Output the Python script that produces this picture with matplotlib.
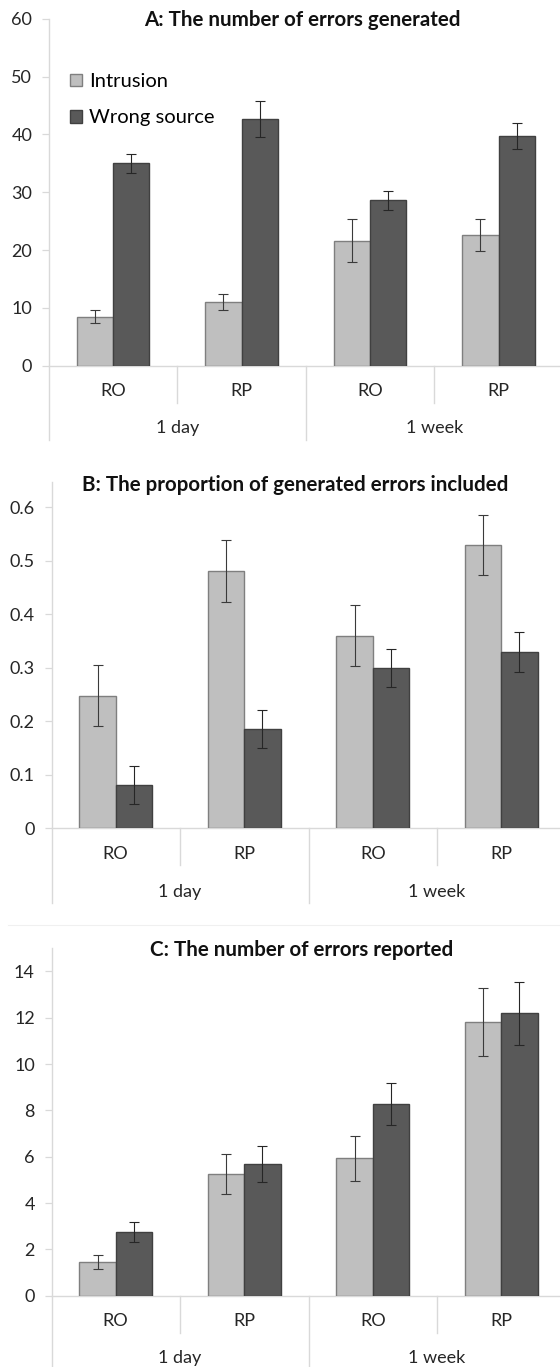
import matplotlib
matplotlib.use('Agg')
import matplotlib.pyplot as plt
import matplotlib.transforms as mtransforms
from matplotlib.patches import Patch

plt.rcParams['font.family'] = ['Lato', 'DejaVu Sans']

# data
categories = ['RO', 'RP', 'RO', 'RP']
groups = ['1 day', '1 week']
series = ['Intrusion', 'Wrong source']

a_intrusion = [8.5, 11.0, 21.6, 22.6]
a_intrusion_err = [1.1, 1.4, 3.7, 2.8]
a_wrong = [35.0, 42.6, 28.6, 39.7]
a_wrong_err = [1.6, 3.1, 1.6, 2.2]

b_intrusion = [0.248, 0.481, 0.360, 0.530]
b_intrusion_err = [0.057, 0.058, 0.057, 0.056]
b_wrong = [0.081, 0.186, 0.300, 0.330]
b_wrong_err = [0.036, 0.036, 0.036, 0.037]

c_intrusion = [1.44, 5.25, 5.93, 11.81]
c_intrusion_err = [0.30, 0.87, 0.97, 1.47]
c_wrong = [2.74, 5.68, 8.27, 12.19]
c_wrong_err = [0.44, 0.77, 0.90, 1.35]

a_ticks = [0, 10, 20, 30, 40, 50, 60]
a_ticklabels = ['0', '10', '20', '30', '40', '50', '60']
b_ticks = [0, 0.1, 0.2, 0.3, 0.4, 0.5, 0.6]
b_ticklabels = ['0', '0.1', '0.2', '0.3', '0.4', '0.5', '0.6']
c_ticks = [0, 2, 4, 6, 8, 10, 12, 14]
c_ticklabels = ['0', '2', '4', '6', '8', '10', '12', '14']

W, H = 560, 1367
LIGHT = '#BFBFBF'
DARK = '#595959'
AXCOL = '#D9D9D9'
FS = 13

fig = plt.figure(figsize=(W / 100, H / 100), dpi=100)


def fy(py):
    return 1 - py / H


def panel(title, title_x, title_y, intr, intr_err, wrong, wrong_err,
          ticks, ticklabels, ymax, x0, top_px, zero_px, axis_top_px,
          axis_bot_px, short_bot_px, cat_y, grp_y, legend=False):
    cat_w = 128.5
    ax = fig.add_axes([x0 / W, fy(zero_px), 4 * cat_w / W, (zero_px - top_px) / H])
    ax.set_xlim(0, 4)
    ax.set_ylim(0, ymax)
    for s in ax.spines.values():
        s.set_visible(False)
    ax.set_xticks([])
    ax.set_yticks(ticks)
    ax.set_yticklabels(ticklabels, fontsize=FS, color='#262626')
    ax.tick_params(axis='y', length=5, width=0.9, color=AXCOL, pad=7)

    bw = 0.2825
    xs = [i + 0.5 for i in range(4)]
    ax.bar([x - bw / 2 for x in xs], intr, bw, color=LIGHT, edgecolor='#7F7F7F',
           linewidth=1.0, label=series[0], zorder=2)
    ax.bar([x + bw / 2 for x in xs], wrong, bw, color=DARK, edgecolor='#404040',
           linewidth=1.0, label=series[1], zorder=2)
    ax.errorbar([x - bw / 2 for x in xs], intr, yerr=intr_err, fmt='none',
                ecolor='#3A3A3A', elinewidth=0.8, capsize=3.5, capthick=0.8, zorder=3)
    ax.errorbar([x + bw / 2 for x in xs], wrong, yerr=wrong_err, fmt='none',
                ecolor='#262626', elinewidth=0.8, capsize=3.5, capthick=0.8, zorder=3)

    ax.axhline(0, color=AXCOL, lw=1.0, clip_on=False, zorder=1)
    tr = mtransforms.blended_transform_factory(ax.transData, fig.transFigure)
    tr_ax = mtransforms.blended_transform_factory(ax.transAxes, fig.transFigure)
    ax.plot([0, 0], [fy(axis_top_px), fy(axis_bot_px)], color=AXCOL, lw=1.0,
            transform=tr_ax, clip_on=False)
    for xb in [1, 3]:
        ax.plot([xb, xb], [fy(zero_px), fy(short_bot_px)], color=AXCOL, lw=1.0,
                transform=tr, clip_on=False)
    ax.plot([2, 2], [fy(zero_px), fy(axis_bot_px)], color=AXCOL, lw=1.0,
            transform=tr, clip_on=False)

    for x, c in zip(xs, categories):
        ax.text(x, fy(cat_y), c, transform=tr, ha='center', va='center',
                fontsize=FS, color='#262626')
    for x, g in zip([1, 3], groups):
        ax.text(x, fy(grp_y), g, transform=tr, ha='center', va='center',
                fontsize=FS, color='#262626')

    fig.text(title_x / W, fy(title_y), title, ha='center', va='center',
             fontsize=14.8, fontweight='bold', color='#111111')

    if legend:
        handles = [Patch(facecolor=LIGHT, edgecolor='#7F7F7F', label=series[0]),
                   Patch(facecolor=DARK, edgecolor='#404040', label=series[1])]
        fig.legend(handles=handles, loc='upper left',
                   bbox_to_anchor=(54 / W, fy(57)), frameon=False,
                   fontsize=14.5, handlelength=0.6, handleheight=0.6,
                   handletextpad=0.35, labelspacing=0.95, borderpad=0.3)
    return ax


panel('A: The number of errors generated', 302, 20,
      a_intrusion, a_intrusion_err, a_wrong, a_wrong_err,
      a_ticks, a_ticklabels, 60, 48.8, 18.7, 365.7, 18.7, 440, 403,
      391, 428, legend=True)

panel('B: The proportion of generated errors included', 295, 485,
      b_intrusion, b_intrusion_err, b_wrong, b_wrong_err,
      b_ticks, b_ticklabels, 0.648, 51.5, 481.7, 828.3, 481.7, 903.3, 865,
      854.3, 891.7)

panel('C: The number of errors reported', 302, 950,
      c_intrusion, c_intrusion_err, c_wrong, c_wrong_err,
      c_ticks, c_ticklabels, 15.0, 51.5, 948.3, 1295.7, 948.3, 1367, 1332.7,
      1320.7, 1358)

# faint border of the bottom chart
fig.add_artist(plt.Line2D([8 / W, 1], [fy(925), fy(925)], color='#F0F0F0', lw=0.8))

fig.savefig('out.png', dpi=100)
